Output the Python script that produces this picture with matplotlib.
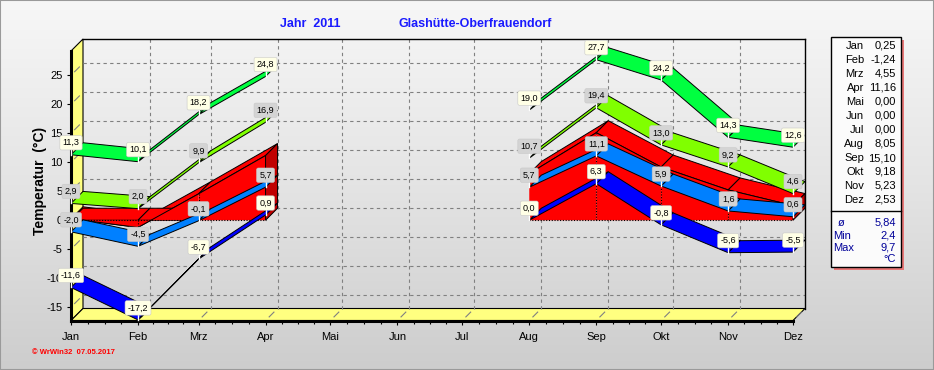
import numpy as np
import matplotlib
matplotlib.use('Agg')
import matplotlib.pyplot as plt
from matplotlib.patches import Polygon, Rectangle
from matplotlib.lines import Line2D
from matplotlib.colors import LinearSegmentedColormap

plt.rcParams['font.family'] = ['Liberation Sans', 'DejaVu Sans']
plt.rcParams['axes.unicode_minus'] = False

# Daten 2011, Glashütte-Oberfrauendorf
months = ['Jan', 'Feb', 'Mrz', 'Apr', 'Mai', 'Jun', 'Jul', 'Aug', 'Sep', 'Okt', 'Nov', 'Dez']
month_days = [31, 28, 31, 30, 31, 30, 31, 31, 30, 31, 30, 31]
abs_max = [11.3, 10.1, 18.2, 24.8, None, None, None, 19.0, 27.7, 24.2, 14.3, 12.6]
mean_max = [2.9, 2.0, 9.9, 16.9, None, None, None, 10.7, 19.4, 13.0, 9.2, 4.6]
mean_temp = [0.25, -1.24, 4.55, 11.16, None, None, None, 8.05, 15.10, 9.18, 5.23, 2.53]
mean_min = [-2.0, -4.5, -0.1, 5.7, None, None, None, 5.7, 11.1, 5.9, 1.6, 0.6]
abs_min = [-11.6, -17.2, -6.7, 0.9, None, None, None, 0.0, 6.3, -0.8, -5.6, -5.5]
table_values = [0.25, -1.24, 4.55, 11.16, 0.00, 0.00, 0.00, 8.05, 15.10, 9.18, 5.23, 2.53]
stat_mean, stat_min, stat_max = 5.84, 2.4, 9.7
yticks = [-15, -10, -5, 0, 5, 10, 15, 20, 25]

W, H = 934, 370
fig = plt.figure(figsize=(W / 100, H / 100), dpi=100)

# Hintergrund-Verlauf
bg = fig.add_axes([0, 0, 1, 1], zorder=-10)
cmap = LinearSegmentedColormap.from_list('bg', ['#f7f7f7', '#e4e4e4', '#cdcdcd'])
bg.imshow(np.linspace(0, 1, 256).reshape(-1, 1), aspect='auto', cmap=cmap,
          extent=[0, 1, 0, 1], origin='upper')
bg.axis('off')

# Diagramm (vordere Ebene)
L, R, T, B = 71, 793, 51, 320.5
ax = fig.add_axes([L / W, 1 - B / H, (R - L) / W, (B - T) / H])
ax.patch.set_visible(False)
for s in ax.spines.values():
    s.set_visible(False)

x_pos = np.concatenate([[0], np.cumsum(month_days[:-1])])
ax.set_xlim(0, x_pos[-1])
ax.set_ylim(-17.3, 29.2)
x0, x1 = ax.get_xlim()
y0, y1 = ax.get_ylim()
depth = 12  # Pixel
dx = depth * (x1 - x0) / (R - L)
dy = depth * (y1 - y0) / (B - T)

# Wände
ax.add_patch(Polygon([(x0, y0), (x0, y1), (x0 + dx, y1 + dy), (x0 + dx, y0 + dy)],
                     fc='#ffff80', ec='black', lw=0.8, clip_on=False, zorder=1))
ax.add_patch(Polygon([(x0, y0), (x1, y0), (x1 + dx, y0 + dy), (x0 + dx, y0 + dy)],
                     fc='#ffff80', ec='black', lw=0.8, clip_on=False, zorder=1))
grid_kw = dict(color='#808080', lw=0.8, ls=(0, (3, 3)), clip_on=False, zorder=1.5)
for yt in yticks:
    ax.plot([x0 + dx, x1 + dx], [yt + dy, yt + dy], **grid_kw)
    ax.plot([x0 + 0.3 * dx, x0 + 0.7 * dx], [yt + 0.3 * dy, yt + 0.7 * dy],
            color='#808080', lw=0.8, clip_on=False, zorder=1.5)
for xp in x_pos[1:-1]:
    ax.plot([xp + dx, xp + dx], [y0 + dy, y1 + dy], **grid_kw)
for xp in x_pos[1:]:
    ax.plot([xp + 0.3 * dx, xp + 0.7 * dx], [y0 + 0.3 * dy, y0 + 0.7 * dy],
            color='#808080', lw=0.8, clip_on=False, zorder=1.5)
ax.plot([x0 + dx, x1 + dx], [y1 + dy, y1 + dy], color='black', lw=1, clip_on=False, zorder=1.6)
ax.plot([x1 + dx, x1 + dx], [y0 + dy, y1 + dy], color='black', lw=1, clip_on=False, zorder=1.6)
ax.plot([x0, x0], [y0, y1], color='black', lw=2.2, clip_on=False, zorder=2)
ax.plot([x0, x1], [y0, y0], color='black', lw=2.2, clip_on=False, zorder=2)


def runs(vals):
    out, cur = [], []
    for i, v in enumerate(vals):
        if v is None:
            if cur:
                out.append(cur)
            cur = []
        else:
            cur.append(i)
    if cur:
        out.append(cur)
    return out


def ribbon(vals, color, z):
    for run in runs(vals):
        for a, b in zip(run[:-1], run[1:]):
            xa, xb, ya, yb = x_pos[a], x_pos[b], vals[a], vals[b]
            ax.add_patch(Polygon([(xa, ya), (xb, yb), (xb + dx, yb + dy), (xa + dx, ya + dy)],
                                 fc=color, ec='black', lw=0.7, clip_on=False, zorder=z))


def area(vals, color, cap, z):
    for run in runs(vals):
        for a, b in zip(run[:-1], run[1:]):
            xa, xb, ya, yb = x_pos[a], x_pos[b], vals[a], vals[b]
            if max(ya, yb) > 0:
                ax.add_patch(Polygon([(xa, ya), (xb, yb), (xb + dx, yb + dy), (xa + dx, ya + dy)],
                                     fc=color, ec='black', lw=0.7, clip_on=False, zorder=z))
            if min(ya, yb) < 0:
                ax.add_patch(Polygon([(xa, 0), (xb, 0), (xb + dx, dy), (xa + dx, dy)],
                                     fc=color, ec='black', lw=0.7, clip_on=False, zorder=z))
            ax.add_patch(Polygon([(xa, 0), (xb, 0), (xb, yb), (xa, ya)],
                                 fc=color, ec='none', clip_on=False, zorder=z))
            ax.plot([xa, xb], [ya, yb], color='black', lw=0.7, clip_on=False, zorder=z)
        xe, ve = x_pos[run[-1]], vals[run[-1]]
        ax.add_patch(Polygon([(xe, 0), (xe, ve), (xe + dx, ve + dy), (xe + dx, dy)],
                             fc=cap, ec='black', lw=0.7, clip_on=False, zorder=z))
        ax.plot([x_pos[run[0]], xe], [0, 0], color='black', lw=0.8, ls=(0, (1, 1.5)),
                clip_on=False, zorder=z)
        for i in run[1:-1]:
            ax.plot([x_pos[i], x_pos[i]], [0, vals[i]], color='black', lw=0.8,
                    ls=(0, (1, 1.5)), clip_on=False, zorder=z)


def labels(vals, fc):
    for i, v in enumerate(vals):
        if v is None:
            continue
        ax.plot([x_pos[i], x_pos[i]], [v, v + dy], color='white', lw=1, clip_on=False, zorder=8)
        ax.text(x_pos[i], v + dy, f'{v:.1f}'.replace('.', ','), ha='center', va='center',
                fontsize=6.5, zorder=9, clip_on=False,
                bbox=dict(boxstyle='round,pad=0.3,rounding_size=0.2', fc=fc, ec='#c8c8c8', lw=0.4))


area(mean_temp, '#ff0000', '#c00000', 3)
ribbon(abs_max, '#00ff40', 4)
ribbon(mean_max, '#80ff00', 4.1)
ribbon(mean_min, '#0080ff', 4.2)
ribbon(abs_min, '#0000ff', 4.3)
labels(abs_max, '#ffffe6')
labels(mean_max, '#d4d4d4')
labels(mean_min, '#d4d4d4')
labels(abs_min, '#ffffe6')

# Achsen
ax.set_xticks(x_pos)
ax.set_xticklabels(months)
minor = [x_pos[i] + month_days[i] * k / 4 for i in range(len(x_pos) - 1) for k in (1, 2, 3)]
ax.set_xticks(minor, minor=True)
ax.set_yticks(yticks)
ax.set_yticklabels([str(t) for t in yticks])
ax.tick_params(axis='both', which='major', direction='out', length=3, width=0.8,
               labelsize=8, colors='black')
ax.tick_params(axis='x', which='major', pad=5)
ax.tick_params(axis='x', which='minor', direction='out', length=2, width=0.8)
ax.tick_params(axis='y', which='major', pad=3)

fig.text(40 / W, 1 - 181 / H, 'Temperatur  (°C)', rotation=90, fontsize=10,
         fontweight='bold', ha='center', va='center')
fig.text(310 / W, 1 - 24 / H, 'Jahr  2011', color='#1a1aff', fontsize=9,
         fontweight='bold', ha='center', va='center')
fig.text(475 / W, 1 - 24 / H, 'Glashütte-Oberfrauendorf', color='#1a1aff', fontsize=9,
         fontweight='bold', ha='center', va='center')
fig.text(32 / W, 1 - 352 / H, '© WrWin32  07.05.2017', color='red', fontsize=5.5,
         fontweight='bold', ha='left', va='center')

# Tabelle rechts
lx0, lx1, ly0, ly1 = 831, 901, 37, 267
fig.add_artist(Rectangle(((lx0 + 3) / W, 1 - (ly1 + 3) / H), (lx1 - lx0) / W, (ly1 - ly0) / H,
                         transform=fig.transFigure, fc='#e87878', ec='none', zorder=1))
fig.add_artist(Rectangle((lx0 / W, 1 - ly1 / H), (lx1 - lx0) / W, (ly1 - ly0) / H,
                         transform=fig.transFigure, fc='#fbfbfb', ec='black', lw=1, zorder=2))
fig.add_artist(Line2D([lx0 / W, lx1 / W], [1 - 211 / H, 1 - 211 / H], color='black', lw=1, zorder=3))
for i, (m, v) in enumerate(zip(months, table_values)):
    yy = 1 - (46 + i * 14) / H
    fig.text(864 / W, yy, m, ha='right', va='center', fontsize=8, zorder=4)
    fig.text(896 / W, yy, f'{v:.2f}'.replace('.', ','), ha='right', va='center', fontsize=8, zorder=4)
stat_rows = [('ø', f'{stat_mean:.2f}', 223, 838), ('Min', f'{stat_min:.1f}', 236, 833),
             ('Max', f'{stat_max:.1f}', 248, 833), ('', '°C', 259, 833)]
for name, val, ypx, xl in stat_rows:
    fig.text(xl / W, 1 - ypx / H, name, ha='left', va='center', fontsize=8, color='#000099', zorder=4)
    fig.text(896 / W, 1 - ypx / H, val.replace('.', ','), ha='right', va='center', fontsize=8,
             color='#000099', zorder=4)

fig.add_artist(Rectangle((0, 0), 1, 1, transform=fig.transFigure, fill=False,
                         ec='#9a9a9a', lw=1.5, zorder=5))

fig.savefig('out.png', dpi=100)
